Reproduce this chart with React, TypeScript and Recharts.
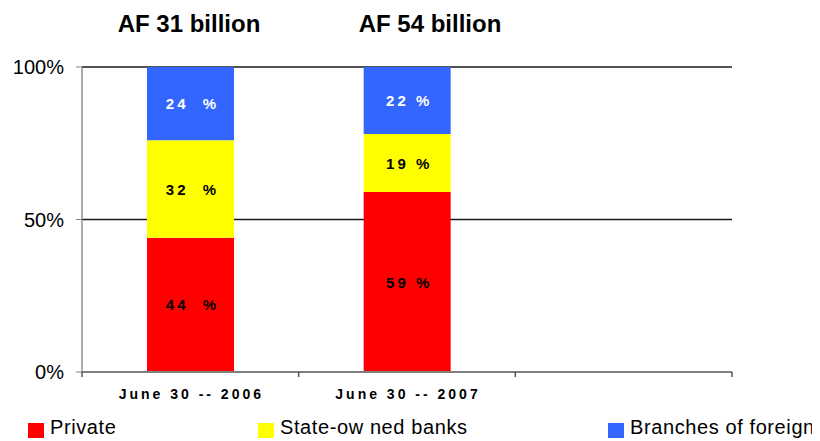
import React from "react";
import {
  BarChart,
  Bar,
  XAxis,
  YAxis,
  CartesianGrid,
  LabelList,
} from "recharts";

const categories = ["June 30 -- 2006", "June 30 -- 2007", ""];
const privateShare = [44, 59, null];
const stateShare = [32, 19, null];
const foreignShare = [24, 22, null];
const titles = ["AF 31 billion", "AF 54 billion"];
const seriesNames = ["Private", "State-ow ned banks", "Branches of foreign banks"];
const seriesKeys = ["priv", "state", "foreign"];
const seriesColors = ["#FF0000", "#FFFF00", "#3366FF"];
const labelColors = ["#000000", "#000000", "#FFFFFF"];
const yTicks = [0, 50, 100];

const data = categories.map((name, i) => ({
  name,
  priv: privateShare[i],
  state: stateShare[i],
  foreign: foreignShare[i],
}));

const FONT = "'Liberation Sans', Arial, sans-serif";
const CHART_W = 812;
const CHART_H = 433;
const MARGIN = { top: 59, right: 88, bottom: 39, left: 0 };
const Y_W = 74;
const SLOT = (CHART_W - MARGIN.right - MARGIN.left - Y_W) / categories.length;

const makeLabel = (fill: string) => (props: any) => {
  const { x, y, width, height, value, index } = props;
  if (value == null) return null;
  const txt = `${value}${index === 0 ? "  " : " "}%`;
  return (
    <text
      x={Number(x) + Number(width) / 2 + 2}
      y={Number(y) + Number(height) / 2}
      textAnchor="middle"
      dominantBaseline="central"
      fill={fill}
      fontFamily={FONT}
      fontWeight="bold"
      fontSize={15}
      letterSpacing={3}
      style={{ whiteSpace: "pre" }}
    >
      {txt}
    </text>
  );
};

const CatTick = (props: any) => {
  const { x, y, payload, index } = props;
  const left = x - SLOT / 2;
  const right = x + SLOT / 2;
  return (
    <g>
      <line x1={left} x2={left} y1={y} y2={y + 5} stroke="#555" strokeWidth={1.5} />
      {index === categories.length - 1 && (
        <line x1={right} x2={right} y1={y} y2={y + 5} stroke="#555" strokeWidth={1.5} />
      )}
      <text
        x={x + 1}
        y={y}
        dy={27}
        textAnchor="middle"
        fill="#000"
        fontFamily={FONT}
        fontWeight="bold"
        fontSize={14}
        letterSpacing={3}
      >
        {payload.value}
      </text>
    </g>
  );
};

const titleCenters = [181, 422];
const legendSquares = [20, 250, 600];

export default function App() {
  return (
    <div
      style={{
        position: "relative",
        width: CHART_W,
        height: CHART_H,
        overflow: "hidden",
        fontFamily: FONT,
        background: "#fff",
      }}
    >
      {titles.map((t, i) => (
        <div
          key={t}
          style={{
            position: "absolute",
            left: titleCenters[i] - 100,
            width: 200,
            top: 4,
            lineHeight: "24px",
            fontSize: 24,
            fontWeight: "bold",
            textAlign: "center",
            color: "#000",
            whiteSpace: "nowrap",
          }}
        >
          {t}
        </div>
      ))}
      <BarChart
        width={CHART_W}
        height={CHART_H}
        data={data}
        margin={MARGIN}
        barCategoryGap={0}
      >
        <CartesianGrid vertical={false} stroke="#1a1a1a" strokeWidth={1.3} />
        <XAxis
          dataKey="name"
          tickLine={false}
          tickSize={0}
          tickMargin={0}
          axisLine={{ stroke: "#808080", strokeWidth: 2 }}
          tick={<CatTick />}
          interval={0}
          height={30}
        />
        <YAxis
          domain={[0, 100]}
          ticks={yTicks}
          tickFormatter={(v: number) => `${v}%`}
          tickSize={6}
          tickMargin={12}
          width={Y_W}
          axisLine={{ stroke: "#808080", strokeWidth: 1.3 }}
          tickLine={{ stroke: "#808080" }}
          tick={{ fill: "#000", fontSize: 20, fontFamily: FONT }}
        />
        {seriesKeys.map((k, i) => (
          <Bar
            key={k}
            dataKey={k}
            name={seriesNames[i]}
            stackId="a"
            fill={seriesColors[i]}
            barSize={87}
            isAnimationActive={false}
          >
            <LabelList dataKey={k} content={makeLabel(labelColors[i])} />
          </Bar>
        ))}
      </BarChart>
      {seriesNames.map((n, i) => (
        <React.Fragment key={n}>
          <div
            style={{
              position: "absolute",
              left: legendSquares[i],
              top: 415,
              width: 16,
              height: 15,
              background: seriesColors[i],
            }}
          />
          <div
            style={{
              position: "absolute",
              left: legendSquares[i] + 22,
              top: 409,
              lineHeight: "20px",
              fontSize: 20,
              letterSpacing: 0.6,
              color: "#000",
              whiteSpace: "nowrap",
            }}
          >
            {n}
          </div>
        </React.Fragment>
      ))}
    </div>
  );
}
